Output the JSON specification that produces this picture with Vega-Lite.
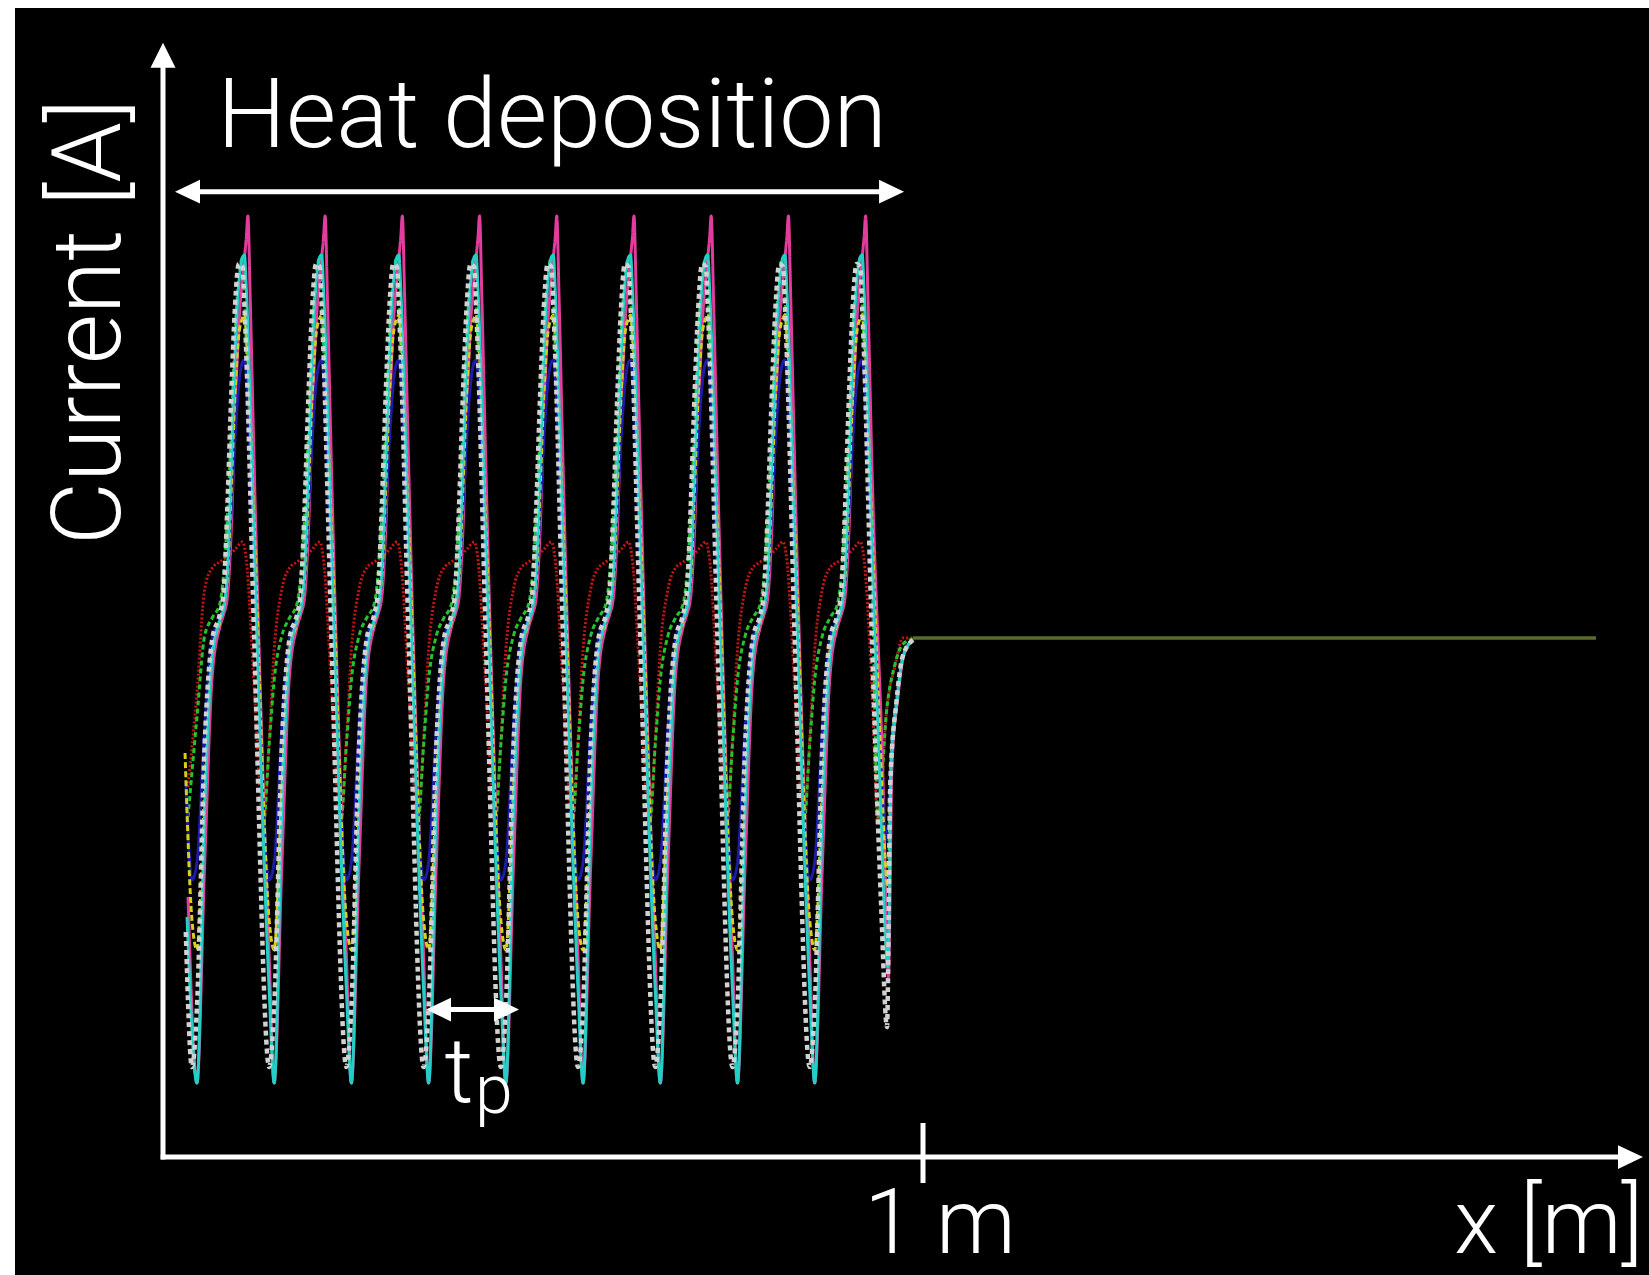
{
  "$schema": "https://vega.github.io/schema/vega-lite/v6.json",
  "width": 1634,
  "height": 1267,
  "autosize": "none",
  "padding": {"left": 15, "top": 8, "right": 0, "bottom": 0},
  "background": "white",
  "config": {"view": {"fill": "black", "stroke": null}},
  "datasets": {
    "curves": [
      {"s":"r","x":0.0329,"y":74},
      {"s":"r","x":0.0447,"y":92.8},{"s":"r","x":0.0547,"y":113.5},{"s":"r","x":0.0647,"y":117.8},{"s":"r","x":0.0747,"y":119},{"s":"r","x":0.0847,"y":120},{"s":"r","x":0.0947,"y":121.5},{"s":"r","x":0.1047,"y":123},{"s":"r","x":0.1097,"y":119.4},{"s":"r","x":0.1197,"y":94.8},{"s":"r","x":0.1322,"y":66.8},{"s":"r","x":0.1397,"y":83.4},
      {"s":"r","x":0.1463,"y":101.4},{"s":"r","x":0.1563,"y":113.5},{"s":"r","x":0.1663,"y":117.8},{"s":"r","x":0.1763,"y":119},{"s":"r","x":0.1863,"y":120},{"s":"r","x":0.1963,"y":121.5},{"s":"r","x":0.2063,"y":123},{"s":"r","x":0.2113,"y":119.4},{"s":"r","x":0.2213,"y":94.8},{"s":"r","x":0.2338,"y":66.8},{"s":"r","x":0.2413,"y":83.4},
      {"s":"r","x":0.2479,"y":101.4},{"s":"r","x":0.2579,"y":113.5},{"s":"r","x":0.2679,"y":117.8},{"s":"r","x":0.2779,"y":119},{"s":"r","x":0.2879,"y":120},{"s":"r","x":0.2979,"y":121.5},{"s":"r","x":0.3079,"y":123},{"s":"r","x":0.3129,"y":119.4},{"s":"r","x":0.3229,"y":94.8},{"s":"r","x":0.3354,"y":66.8},{"s":"r","x":0.3429,"y":83.4},
      {"s":"r","x":0.3495,"y":101.4},{"s":"r","x":0.3595,"y":113.5},{"s":"r","x":0.3695,"y":117.8},{"s":"r","x":0.3795,"y":119},{"s":"r","x":0.3895,"y":120},{"s":"r","x":0.3995,"y":121.5},{"s":"r","x":0.4095,"y":123},{"s":"r","x":0.4145,"y":119.4},{"s":"r","x":0.4245,"y":94.8},{"s":"r","x":0.4370,"y":66.8},{"s":"r","x":0.4445,"y":83.4},
      {"s":"r","x":0.4511,"y":101.4},{"s":"r","x":0.4611,"y":113.5},{"s":"r","x":0.4711,"y":117.8},{"s":"r","x":0.4811,"y":119},{"s":"r","x":0.4911,"y":120},{"s":"r","x":0.5011,"y":121.5},{"s":"r","x":0.5111,"y":123},{"s":"r","x":0.5161,"y":119.4},{"s":"r","x":0.5261,"y":94.8},{"s":"r","x":0.5386,"y":66.8},{"s":"r","x":0.5461,"y":83.4},
      {"s":"r","x":0.5527,"y":101.4},{"s":"r","x":0.5627,"y":113.5},{"s":"r","x":0.5727,"y":117.8},{"s":"r","x":0.5827,"y":119},{"s":"r","x":0.5927,"y":120},{"s":"r","x":0.6027,"y":121.5},{"s":"r","x":0.6127,"y":123},{"s":"r","x":0.6177,"y":119.4},{"s":"r","x":0.6277,"y":94.8},{"s":"r","x":0.6402,"y":66.8},{"s":"r","x":0.6477,"y":83.4},
      {"s":"r","x":0.6543,"y":101.4},{"s":"r","x":0.6643,"y":113.5},{"s":"r","x":0.6743,"y":117.8},{"s":"r","x":0.6843,"y":119},{"s":"r","x":0.6943,"y":120},{"s":"r","x":0.7043,"y":121.5},{"s":"r","x":0.7143,"y":123},{"s":"r","x":0.7193,"y":119.4},{"s":"r","x":0.7293,"y":94.8},{"s":"r","x":0.7418,"y":66.8},{"s":"r","x":0.7493,"y":83.4},
      {"s":"r","x":0.7559,"y":101.4},{"s":"r","x":0.7659,"y":113.5},{"s":"r","x":0.7759,"y":117.8},{"s":"r","x":0.7859,"y":119},{"s":"r","x":0.7959,"y":120},{"s":"r","x":0.8059,"y":121.5},{"s":"r","x":0.8159,"y":123},{"s":"r","x":0.8209,"y":119.4},{"s":"r","x":0.8309,"y":94.8},{"s":"r","x":0.8434,"y":66.8},{"s":"r","x":0.8509,"y":83.4},
      {"s":"r","x":0.8575,"y":101.4},{"s":"r","x":0.8675,"y":113.5},{"s":"r","x":0.8775,"y":117.8},{"s":"r","x":0.8875,"y":119},{"s":"r","x":0.8975,"y":120},{"s":"r","x":0.9075,"y":121.5},{"s":"r","x":0.9175,"y":123},{"s":"r","x":0.9225,"y":119.4},{"s":"r","x":0.9325,"y":94.8},{"s":"r","x":0.9408,"y":66.8},{"s":"r","x":0.9526,"y":90},{"s":"r","x":0.9630,"y":98},{"s":"r","x":0.9737,"y":103.8},{"s":"r","x":0.9868,"y":103.8},

      {"s":"e","x":0.0329,"y":68},
      {"s":"e","x":0.0447,"y":88},{"s":"e","x":0.0547,"y":104.2},{"s":"e","x":0.0647,"y":107.8},{"s":"e","x":0.0747,"y":110.6},{"s":"e","x":0.0847,"y":128},{"s":"e","x":0.0897,"y":145},{"s":"e","x":0.0947,"y":164},{"s":"e","x":0.0997,"y":176},{"s":"e","x":0.1047,"y":179.8},{"s":"e","x":0.1072,"y":172},{"s":"e","x":0.1097,"y":162},{"s":"e","x":0.1197,"y":120},{"s":"e","x":0.1297,"y":78},{"s":"e","x":0.1322,"y":66.8},{"s":"e","x":0.1397,"y":82.4},
      {"s":"e","x":0.1463,"y":95.4},{"s":"e","x":0.1563,"y":104.2},{"s":"e","x":0.1663,"y":107.8},{"s":"e","x":0.1763,"y":110.6},{"s":"e","x":0.1863,"y":128},{"s":"e","x":0.1913,"y":145},{"s":"e","x":0.1963,"y":164},{"s":"e","x":0.2013,"y":176},{"s":"e","x":0.2063,"y":179.8},{"s":"e","x":0.2088,"y":172},{"s":"e","x":0.2113,"y":162},{"s":"e","x":0.2213,"y":120},{"s":"e","x":0.2313,"y":78},{"s":"e","x":0.2338,"y":66.8},{"s":"e","x":0.2413,"y":82.4},
      {"s":"e","x":0.2479,"y":95.4},{"s":"e","x":0.2579,"y":104.2},{"s":"e","x":0.2679,"y":107.8},{"s":"e","x":0.2779,"y":110.6},{"s":"e","x":0.2879,"y":128},{"s":"e","x":0.2929,"y":145},{"s":"e","x":0.2979,"y":164},{"s":"e","x":0.3029,"y":176},{"s":"e","x":0.3079,"y":179.8},{"s":"e","x":0.3104,"y":172},{"s":"e","x":0.3129,"y":162},{"s":"e","x":0.3229,"y":120},{"s":"e","x":0.3329,"y":78},{"s":"e","x":0.3354,"y":66.8},{"s":"e","x":0.3429,"y":82.4},
      {"s":"e","x":0.3495,"y":95.4},{"s":"e","x":0.3595,"y":104.2},{"s":"e","x":0.3695,"y":107.8},{"s":"e","x":0.3795,"y":110.6},{"s":"e","x":0.3895,"y":128},{"s":"e","x":0.3945,"y":145},{"s":"e","x":0.3995,"y":164},{"s":"e","x":0.4045,"y":176},{"s":"e","x":0.4095,"y":179.8},{"s":"e","x":0.4120,"y":172},{"s":"e","x":0.4145,"y":162},{"s":"e","x":0.4245,"y":120},{"s":"e","x":0.4345,"y":78},{"s":"e","x":0.4370,"y":66.8},{"s":"e","x":0.4445,"y":82.4},
      {"s":"e","x":0.4511,"y":95.4},{"s":"e","x":0.4611,"y":104.2},{"s":"e","x":0.4711,"y":107.8},{"s":"e","x":0.4811,"y":110.6},{"s":"e","x":0.4911,"y":128},{"s":"e","x":0.4961,"y":145},{"s":"e","x":0.5011,"y":164},{"s":"e","x":0.5061,"y":176},{"s":"e","x":0.5111,"y":179.8},{"s":"e","x":0.5136,"y":172},{"s":"e","x":0.5161,"y":162},{"s":"e","x":0.5261,"y":120},{"s":"e","x":0.5361,"y":78},{"s":"e","x":0.5386,"y":66.8},{"s":"e","x":0.5461,"y":82.4},
      {"s":"e","x":0.5527,"y":95.4},{"s":"e","x":0.5627,"y":104.2},{"s":"e","x":0.5727,"y":107.8},{"s":"e","x":0.5827,"y":110.6},{"s":"e","x":0.5927,"y":128},{"s":"e","x":0.5977,"y":145},{"s":"e","x":0.6027,"y":164},{"s":"e","x":0.6077,"y":176},{"s":"e","x":0.6127,"y":179.8},{"s":"e","x":0.6152,"y":172},{"s":"e","x":0.6177,"y":162},{"s":"e","x":0.6277,"y":120},{"s":"e","x":0.6377,"y":78},{"s":"e","x":0.6402,"y":66.8},{"s":"e","x":0.6477,"y":82.4},
      {"s":"e","x":0.6543,"y":95.4},{"s":"e","x":0.6643,"y":104.2},{"s":"e","x":0.6743,"y":107.8},{"s":"e","x":0.6843,"y":110.6},{"s":"e","x":0.6943,"y":128},{"s":"e","x":0.6993,"y":145},{"s":"e","x":0.7043,"y":164},{"s":"e","x":0.7093,"y":176},{"s":"e","x":0.7143,"y":179.8},{"s":"e","x":0.7168,"y":172},{"s":"e","x":0.7193,"y":162},{"s":"e","x":0.7293,"y":120},{"s":"e","x":0.7393,"y":78},{"s":"e","x":0.7418,"y":66.8},{"s":"e","x":0.7493,"y":82.4},
      {"s":"e","x":0.7559,"y":95.4},{"s":"e","x":0.7659,"y":104.2},{"s":"e","x":0.7759,"y":107.8},{"s":"e","x":0.7859,"y":110.6},{"s":"e","x":0.7959,"y":128},{"s":"e","x":0.8009,"y":145},{"s":"e","x":0.8059,"y":164},{"s":"e","x":0.8109,"y":176},{"s":"e","x":0.8159,"y":179.8},{"s":"e","x":0.8184,"y":172},{"s":"e","x":0.8209,"y":162},{"s":"e","x":0.8309,"y":120},{"s":"e","x":0.8409,"y":78},{"s":"e","x":0.8434,"y":66.8},{"s":"e","x":0.8509,"y":82.4},
      {"s":"e","x":0.8575,"y":95.4},{"s":"e","x":0.8675,"y":104.2},{"s":"e","x":0.8775,"y":107.8},{"s":"e","x":0.8875,"y":110.6},{"s":"e","x":0.8975,"y":128},{"s":"e","x":0.9025,"y":145},{"s":"e","x":0.9075,"y":164},{"s":"e","x":0.9125,"y":176},{"s":"e","x":0.9175,"y":179.8},{"s":"e","x":0.9200,"y":172},{"s":"e","x":0.9225,"y":162},{"s":"e","x":0.9325,"y":120},{"s":"e","x":0.9408,"y":68},{"s":"e","x":0.9526,"y":90},{"s":"e","x":0.9630,"y":98.5},{"s":"e","x":0.9737,"y":102.6},{"s":"e","x":0.9868,"y":103.6},

      {"s":"m","x":0.0329,"y":52},
      {"s":"m","x":0.0447,"y":14.8},{"s":"m","x":0.0547,"y":58},{"s":"m","x":0.0647,"y":96},{"s":"m","x":0.0747,"y":106},{"s":"m","x":0.0797,"y":108.5},{"s":"m","x":0.0847,"y":112},{"s":"m","x":0.0897,"y":125},{"s":"m","x":0.0947,"y":148},{"s":"m","x":0.0997,"y":166},{"s":"m","x":0.1047,"y":176},{"s":"m","x":0.1072,"y":180},{"s":"m","x":0.1097,"y":184},{"s":"m","x":0.1117,"y":188.2},{"s":"m","x":0.1147,"y":172},{"s":"m","x":0.1197,"y":140},{"s":"m","x":0.1397,"y":40},
      {"s":"m","x":0.1463,"y":14.8},{"s":"m","x":0.1563,"y":58},{"s":"m","x":0.1663,"y":96},{"s":"m","x":0.1763,"y":106},{"s":"m","x":0.1813,"y":108.5},{"s":"m","x":0.1863,"y":112},{"s":"m","x":0.1913,"y":125},{"s":"m","x":0.1963,"y":148},{"s":"m","x":0.2013,"y":166},{"s":"m","x":0.2063,"y":176},{"s":"m","x":0.2088,"y":180},{"s":"m","x":0.2113,"y":184},{"s":"m","x":0.2133,"y":188.2},{"s":"m","x":0.2163,"y":172},{"s":"m","x":0.2213,"y":140},{"s":"m","x":0.2413,"y":40},
      {"s":"m","x":0.2479,"y":14.8},{"s":"m","x":0.2579,"y":58},{"s":"m","x":0.2679,"y":96},{"s":"m","x":0.2779,"y":106},{"s":"m","x":0.2829,"y":108.5},{"s":"m","x":0.2879,"y":112},{"s":"m","x":0.2929,"y":125},{"s":"m","x":0.2979,"y":148},{"s":"m","x":0.3029,"y":166},{"s":"m","x":0.3079,"y":176},{"s":"m","x":0.3104,"y":180},{"s":"m","x":0.3129,"y":184},{"s":"m","x":0.3149,"y":188.2},{"s":"m","x":0.3179,"y":172},{"s":"m","x":0.3229,"y":140},{"s":"m","x":0.3429,"y":40},
      {"s":"m","x":0.3495,"y":14.8},{"s":"m","x":0.3595,"y":58},{"s":"m","x":0.3695,"y":96},{"s":"m","x":0.3795,"y":106},{"s":"m","x":0.3845,"y":108.5},{"s":"m","x":0.3895,"y":112},{"s":"m","x":0.3945,"y":125},{"s":"m","x":0.3995,"y":148},{"s":"m","x":0.4045,"y":166},{"s":"m","x":0.4095,"y":176},{"s":"m","x":0.4120,"y":180},{"s":"m","x":0.4145,"y":184},{"s":"m","x":0.4165,"y":188.2},{"s":"m","x":0.4195,"y":172},{"s":"m","x":0.4245,"y":140},{"s":"m","x":0.4445,"y":40},
      {"s":"m","x":0.4511,"y":14.8},{"s":"m","x":0.4611,"y":58},{"s":"m","x":0.4711,"y":96},{"s":"m","x":0.4811,"y":106},{"s":"m","x":0.4861,"y":108.5},{"s":"m","x":0.4911,"y":112},{"s":"m","x":0.4961,"y":125},{"s":"m","x":0.5011,"y":148},{"s":"m","x":0.5061,"y":166},{"s":"m","x":0.5111,"y":176},{"s":"m","x":0.5136,"y":180},{"s":"m","x":0.5161,"y":184},{"s":"m","x":0.5181,"y":188.2},{"s":"m","x":0.5211,"y":172},{"s":"m","x":0.5261,"y":140},{"s":"m","x":0.5461,"y":40},
      {"s":"m","x":0.5527,"y":14.8},{"s":"m","x":0.5627,"y":58},{"s":"m","x":0.5727,"y":96},{"s":"m","x":0.5827,"y":106},{"s":"m","x":0.5877,"y":108.5},{"s":"m","x":0.5927,"y":112},{"s":"m","x":0.5977,"y":125},{"s":"m","x":0.6027,"y":148},{"s":"m","x":0.6077,"y":166},{"s":"m","x":0.6127,"y":176},{"s":"m","x":0.6152,"y":180},{"s":"m","x":0.6177,"y":184},{"s":"m","x":0.6197,"y":188.2},{"s":"m","x":0.6227,"y":172},{"s":"m","x":0.6277,"y":140},{"s":"m","x":0.6477,"y":40},
      {"s":"m","x":0.6543,"y":14.8},{"s":"m","x":0.6643,"y":58},{"s":"m","x":0.6743,"y":96},{"s":"m","x":0.6843,"y":106},{"s":"m","x":0.6893,"y":108.5},{"s":"m","x":0.6943,"y":112},{"s":"m","x":0.6993,"y":125},{"s":"m","x":0.7043,"y":148},{"s":"m","x":0.7093,"y":166},{"s":"m","x":0.7143,"y":176},{"s":"m","x":0.7168,"y":180},{"s":"m","x":0.7193,"y":184},{"s":"m","x":0.7213,"y":188.2},{"s":"m","x":0.7243,"y":172},{"s":"m","x":0.7293,"y":140},{"s":"m","x":0.7493,"y":40},
      {"s":"m","x":0.7559,"y":14.8},{"s":"m","x":0.7659,"y":58},{"s":"m","x":0.7759,"y":96},{"s":"m","x":0.7859,"y":106},{"s":"m","x":0.7909,"y":108.5},{"s":"m","x":0.7959,"y":112},{"s":"m","x":0.8009,"y":125},{"s":"m","x":0.8059,"y":148},{"s":"m","x":0.8109,"y":166},{"s":"m","x":0.8159,"y":176},{"s":"m","x":0.8184,"y":180},{"s":"m","x":0.8209,"y":184},{"s":"m","x":0.8229,"y":188.2},{"s":"m","x":0.8259,"y":172},{"s":"m","x":0.8309,"y":140},{"s":"m","x":0.8509,"y":40},
      {"s":"m","x":0.8575,"y":14.8},{"s":"m","x":0.8675,"y":58},{"s":"m","x":0.8775,"y":96},{"s":"m","x":0.8875,"y":106},{"s":"m","x":0.8925,"y":108.5},{"s":"m","x":0.8975,"y":112},{"s":"m","x":0.9025,"y":125},{"s":"m","x":0.9075,"y":148},{"s":"m","x":0.9125,"y":166},{"s":"m","x":0.9175,"y":176},{"s":"m","x":0.9200,"y":180},{"s":"m","x":0.9225,"y":184},{"s":"m","x":0.9245,"y":188.2},{"s":"m","x":0.9275,"y":172},{"s":"m","x":0.9325,"y":140},{"s":"m","x":0.9475,"y":75},{"s":"m","x":0.9545,"y":36},{"s":"m","x":0.9592,"y":78},{"s":"m","x":0.9670,"y":92},{"s":"m","x":0.9750,"y":100.5},{"s":"m","x":0.9868,"y":103.4},

      {"s":"b","x":0.0303,"y":75},{"s":"b","x":0.0381,"y":55.4},
      {"s":"b","x":0.0447,"y":59},{"s":"b","x":0.0547,"y":85.4},{"s":"b","x":0.0647,"y":103.4},{"s":"b","x":0.0747,"y":107.8},{"s":"b","x":0.0847,"y":115.4},{"s":"b","x":0.0897,"y":129.4},{"s":"b","x":0.0947,"y":143.4},{"s":"b","x":0.0997,"y":154.4},{"s":"b","x":0.1047,"y":159},{"s":"b","x":0.1072,"y":159.4},{"s":"b","x":0.1097,"y":156.4},{"s":"b","x":0.1197,"y":119.4},{"s":"b","x":0.1397,"y":55.4},
      {"s":"b","x":0.1463,"y":59},{"s":"b","x":0.1563,"y":85.4},{"s":"b","x":0.1663,"y":103.4},{"s":"b","x":0.1763,"y":107.8},{"s":"b","x":0.1863,"y":115.4},{"s":"b","x":0.1913,"y":129.4},{"s":"b","x":0.1963,"y":143.4},{"s":"b","x":0.2013,"y":154.4},{"s":"b","x":0.2063,"y":159},{"s":"b","x":0.2088,"y":159.4},{"s":"b","x":0.2113,"y":156.4},{"s":"b","x":0.2213,"y":119.4},{"s":"b","x":0.2413,"y":55.4},
      {"s":"b","x":0.2479,"y":59},{"s":"b","x":0.2579,"y":85.4},{"s":"b","x":0.2679,"y":103.4},{"s":"b","x":0.2779,"y":107.8},{"s":"b","x":0.2879,"y":115.4},{"s":"b","x":0.2929,"y":129.4},{"s":"b","x":0.2979,"y":143.4},{"s":"b","x":0.3029,"y":154.4},{"s":"b","x":0.3079,"y":159},{"s":"b","x":0.3104,"y":159.4},{"s":"b","x":0.3129,"y":156.4},{"s":"b","x":0.3229,"y":119.4},{"s":"b","x":0.3429,"y":55.4},
      {"s":"b","x":0.3495,"y":59},{"s":"b","x":0.3595,"y":85.4},{"s":"b","x":0.3695,"y":103.4},{"s":"b","x":0.3795,"y":107.8},{"s":"b","x":0.3895,"y":115.4},{"s":"b","x":0.3945,"y":129.4},{"s":"b","x":0.3995,"y":143.4},{"s":"b","x":0.4045,"y":154.4},{"s":"b","x":0.4095,"y":159},{"s":"b","x":0.4120,"y":159.4},{"s":"b","x":0.4145,"y":156.4},{"s":"b","x":0.4245,"y":119.4},{"s":"b","x":0.4445,"y":55.4},
      {"s":"b","x":0.4511,"y":59},{"s":"b","x":0.4611,"y":85.4},{"s":"b","x":0.4711,"y":103.4},{"s":"b","x":0.4811,"y":107.8},{"s":"b","x":0.4911,"y":115.4},{"s":"b","x":0.4961,"y":129.4},{"s":"b","x":0.5011,"y":143.4},{"s":"b","x":0.5061,"y":154.4},{"s":"b","x":0.5111,"y":159},{"s":"b","x":0.5136,"y":159.4},{"s":"b","x":0.5161,"y":156.4},{"s":"b","x":0.5261,"y":119.4},{"s":"b","x":0.5461,"y":55.4},
      {"s":"b","x":0.5527,"y":59},{"s":"b","x":0.5627,"y":85.4},{"s":"b","x":0.5727,"y":103.4},{"s":"b","x":0.5827,"y":107.8},{"s":"b","x":0.5927,"y":115.4},{"s":"b","x":0.5977,"y":129.4},{"s":"b","x":0.6027,"y":143.4},{"s":"b","x":0.6077,"y":154.4},{"s":"b","x":0.6127,"y":159},{"s":"b","x":0.6152,"y":159.4},{"s":"b","x":0.6177,"y":156.4},{"s":"b","x":0.6277,"y":119.4},{"s":"b","x":0.6477,"y":55.4},
      {"s":"b","x":0.6543,"y":59},{"s":"b","x":0.6643,"y":85.4},{"s":"b","x":0.6743,"y":103.4},{"s":"b","x":0.6843,"y":107.8},{"s":"b","x":0.6943,"y":115.4},{"s":"b","x":0.6993,"y":129.4},{"s":"b","x":0.7043,"y":143.4},{"s":"b","x":0.7093,"y":154.4},{"s":"b","x":0.7143,"y":159},{"s":"b","x":0.7168,"y":159.4},{"s":"b","x":0.7193,"y":156.4},{"s":"b","x":0.7293,"y":119.4},{"s":"b","x":0.7493,"y":55.4},
      {"s":"b","x":0.7559,"y":59},{"s":"b","x":0.7659,"y":85.4},{"s":"b","x":0.7759,"y":103.4},{"s":"b","x":0.7859,"y":107.8},{"s":"b","x":0.7959,"y":115.4},{"s":"b","x":0.8009,"y":129.4},{"s":"b","x":0.8059,"y":143.4},{"s":"b","x":0.8109,"y":154.4},{"s":"b","x":0.8159,"y":159},{"s":"b","x":0.8184,"y":159.4},{"s":"b","x":0.8209,"y":156.4},{"s":"b","x":0.8309,"y":119.4},{"s":"b","x":0.8509,"y":55.4},
      {"s":"b","x":0.8575,"y":59},{"s":"b","x":0.8675,"y":85.4},{"s":"b","x":0.8775,"y":103.4},{"s":"b","x":0.8875,"y":107.8},{"s":"b","x":0.8975,"y":115.4},{"s":"b","x":0.9025,"y":129.4},{"s":"b","x":0.9075,"y":143.4},{"s":"b","x":0.9125,"y":154.4},{"s":"b","x":0.9175,"y":159},{"s":"b","x":0.9200,"y":159.4},{"s":"b","x":0.9225,"y":156.4},{"s":"b","x":0.9325,"y":119.4},{"s":"b","x":0.9425,"y":83.4},{"s":"b","x":0.9539,"y":63.4},{"s":"b","x":0.9579,"y":80},{"s":"b","x":0.9658,"y":92},{"s":"b","x":0.9737,"y":100.2},{"s":"b","x":0.9868,"y":103.4},

      {"s":"y","x":0.0290,"y":80.8},{"s":"y","x":0.0381,"y":47.4},
      {"s":"y","x":0.0447,"y":41.4},{"s":"y","x":0.0547,"y":73.4},{"s":"y","x":0.0647,"y":101},{"s":"y","x":0.0747,"y":107},{"s":"y","x":0.0847,"y":115.8},{"s":"y","x":0.0897,"y":133.4},{"s":"y","x":0.0947,"y":152.4},{"s":"y","x":0.0997,"y":164.4},{"s":"y","x":0.1047,"y":167.8},{"s":"y","x":0.1072,"y":168.4},{"s":"y","x":0.1097,"y":165.4},{"s":"y","x":0.1197,"y":127.4},{"s":"y","x":0.1397,"y":47.4},
      {"s":"y","x":0.1463,"y":41.4},{"s":"y","x":0.1563,"y":73.4},{"s":"y","x":0.1663,"y":101},{"s":"y","x":0.1763,"y":107},{"s":"y","x":0.1863,"y":115.8},{"s":"y","x":0.1913,"y":133.4},{"s":"y","x":0.1963,"y":152.4},{"s":"y","x":0.2013,"y":164.4},{"s":"y","x":0.2063,"y":167.8},{"s":"y","x":0.2088,"y":168.4},{"s":"y","x":0.2113,"y":165.4},{"s":"y","x":0.2213,"y":127.4},{"s":"y","x":0.2413,"y":47.4},
      {"s":"y","x":0.2479,"y":41.4},{"s":"y","x":0.2579,"y":73.4},{"s":"y","x":0.2679,"y":101},{"s":"y","x":0.2779,"y":107},{"s":"y","x":0.2879,"y":115.8},{"s":"y","x":0.2929,"y":133.4},{"s":"y","x":0.2979,"y":152.4},{"s":"y","x":0.3029,"y":164.4},{"s":"y","x":0.3079,"y":167.8},{"s":"y","x":0.3104,"y":168.4},{"s":"y","x":0.3129,"y":165.4},{"s":"y","x":0.3229,"y":127.4},{"s":"y","x":0.3429,"y":47.4},
      {"s":"y","x":0.3495,"y":41.4},{"s":"y","x":0.3595,"y":73.4},{"s":"y","x":0.3695,"y":101},{"s":"y","x":0.3795,"y":107},{"s":"y","x":0.3895,"y":115.8},{"s":"y","x":0.3945,"y":133.4},{"s":"y","x":0.3995,"y":152.4},{"s":"y","x":0.4045,"y":164.4},{"s":"y","x":0.4095,"y":167.8},{"s":"y","x":0.4120,"y":168.4},{"s":"y","x":0.4145,"y":165.4},{"s":"y","x":0.4245,"y":127.4},{"s":"y","x":0.4445,"y":47.4},
      {"s":"y","x":0.4511,"y":41.4},{"s":"y","x":0.4611,"y":73.4},{"s":"y","x":0.4711,"y":101},{"s":"y","x":0.4811,"y":107},{"s":"y","x":0.4911,"y":115.8},{"s":"y","x":0.4961,"y":133.4},{"s":"y","x":0.5011,"y":152.4},{"s":"y","x":0.5061,"y":164.4},{"s":"y","x":0.5111,"y":167.8},{"s":"y","x":0.5136,"y":168.4},{"s":"y","x":0.5161,"y":165.4},{"s":"y","x":0.5261,"y":127.4},{"s":"y","x":0.5461,"y":47.4},
      {"s":"y","x":0.5527,"y":41.4},{"s":"y","x":0.5627,"y":73.4},{"s":"y","x":0.5727,"y":101},{"s":"y","x":0.5827,"y":107},{"s":"y","x":0.5927,"y":115.8},{"s":"y","x":0.5977,"y":133.4},{"s":"y","x":0.6027,"y":152.4},{"s":"y","x":0.6077,"y":164.4},{"s":"y","x":0.6127,"y":167.8},{"s":"y","x":0.6152,"y":168.4},{"s":"y","x":0.6177,"y":165.4},{"s":"y","x":0.6277,"y":127.4},{"s":"y","x":0.6477,"y":47.4},
      {"s":"y","x":0.6543,"y":41.4},{"s":"y","x":0.6643,"y":73.4},{"s":"y","x":0.6743,"y":101},{"s":"y","x":0.6843,"y":107},{"s":"y","x":0.6943,"y":115.8},{"s":"y","x":0.6993,"y":133.4},{"s":"y","x":0.7043,"y":152.4},{"s":"y","x":0.7093,"y":164.4},{"s":"y","x":0.7143,"y":167.8},{"s":"y","x":0.7168,"y":168.4},{"s":"y","x":0.7193,"y":165.4},{"s":"y","x":0.7293,"y":127.4},{"s":"y","x":0.7493,"y":47.4},
      {"s":"y","x":0.7559,"y":41.4},{"s":"y","x":0.7659,"y":73.4},{"s":"y","x":0.7759,"y":101},{"s":"y","x":0.7859,"y":107},{"s":"y","x":0.7959,"y":115.8},{"s":"y","x":0.8009,"y":133.4},{"s":"y","x":0.8059,"y":152.4},{"s":"y","x":0.8109,"y":164.4},{"s":"y","x":0.8159,"y":167.8},{"s":"y","x":0.8184,"y":168.4},{"s":"y","x":0.8209,"y":165.4},{"s":"y","x":0.8309,"y":127.4},{"s":"y","x":0.8509,"y":47.4},
      {"s":"y","x":0.8575,"y":41.4},{"s":"y","x":0.8675,"y":73.4},{"s":"y","x":0.8775,"y":101},{"s":"y","x":0.8875,"y":107},{"s":"y","x":0.8975,"y":115.8},{"s":"y","x":0.9025,"y":133.4},{"s":"y","x":0.9075,"y":152.4},{"s":"y","x":0.9125,"y":164.4},{"s":"y","x":0.9175,"y":167.8},{"s":"y","x":0.9200,"y":168.4},{"s":"y","x":0.9225,"y":165.4},{"s":"y","x":0.9325,"y":127.4},{"s":"y","x":0.9425,"y":87.4},{"s":"y","x":0.9539,"y":54},{"s":"y","x":0.9579,"y":79},{"s":"y","x":0.9658,"y":91.8},{"s":"y","x":0.9737,"y":100.2},{"s":"y","x":0.9868,"y":103.4},

      {"s":"c","x":0.0316,"y":48},
      {"s":"c","x":0.0447,"y":14.8},{"s":"c","x":0.0547,"y":69.4},{"s":"c","x":0.0647,"y":99.8},{"s":"c","x":0.0747,"y":107.4},{"s":"c","x":0.0797,"y":109.6},{"s":"c","x":0.0847,"y":117.4},{"s":"c","x":0.0897,"y":138.4},{"s":"c","x":0.0947,"y":160.4},{"s":"c","x":0.0997,"y":174.4},{"s":"c","x":0.1047,"y":180},{"s":"c","x":0.1072,"y":180.4},{"s":"c","x":0.1097,"y":173.4},{"s":"c","x":0.1197,"y":123.4},{"s":"c","x":0.1397,"y":33.4},
      {"s":"c","x":0.1463,"y":14.8},{"s":"c","x":0.1563,"y":69.4},{"s":"c","x":0.1663,"y":99.8},{"s":"c","x":0.1763,"y":107.4},{"s":"c","x":0.1813,"y":109.6},{"s":"c","x":0.1863,"y":117.4},{"s":"c","x":0.1913,"y":138.4},{"s":"c","x":0.1963,"y":160.4},{"s":"c","x":0.2013,"y":174.4},{"s":"c","x":0.2063,"y":180},{"s":"c","x":0.2088,"y":180.4},{"s":"c","x":0.2113,"y":173.4},{"s":"c","x":0.2213,"y":123.4},{"s":"c","x":0.2413,"y":33.4},
      {"s":"c","x":0.2479,"y":14.8},{"s":"c","x":0.2579,"y":69.4},{"s":"c","x":0.2679,"y":99.8},{"s":"c","x":0.2779,"y":107.4},{"s":"c","x":0.2829,"y":109.6},{"s":"c","x":0.2879,"y":117.4},{"s":"c","x":0.2929,"y":138.4},{"s":"c","x":0.2979,"y":160.4},{"s":"c","x":0.3029,"y":174.4},{"s":"c","x":0.3079,"y":180},{"s":"c","x":0.3104,"y":180.4},{"s":"c","x":0.3129,"y":173.4},{"s":"c","x":0.3229,"y":123.4},{"s":"c","x":0.3429,"y":33.4},
      {"s":"c","x":0.3495,"y":14.8},{"s":"c","x":0.3595,"y":69.4},{"s":"c","x":0.3695,"y":99.8},{"s":"c","x":0.3795,"y":107.4},{"s":"c","x":0.3845,"y":109.6},{"s":"c","x":0.3895,"y":117.4},{"s":"c","x":0.3945,"y":138.4},{"s":"c","x":0.3995,"y":160.4},{"s":"c","x":0.4045,"y":174.4},{"s":"c","x":0.4095,"y":180},{"s":"c","x":0.4120,"y":180.4},{"s":"c","x":0.4145,"y":173.4},{"s":"c","x":0.4245,"y":123.4},{"s":"c","x":0.4445,"y":33.4},
      {"s":"c","x":0.4511,"y":14.8},{"s":"c","x":0.4611,"y":69.4},{"s":"c","x":0.4711,"y":99.8},{"s":"c","x":0.4811,"y":107.4},{"s":"c","x":0.4861,"y":109.6},{"s":"c","x":0.4911,"y":117.4},{"s":"c","x":0.4961,"y":138.4},{"s":"c","x":0.5011,"y":160.4},{"s":"c","x":0.5061,"y":174.4},{"s":"c","x":0.5111,"y":180},{"s":"c","x":0.5136,"y":180.4},{"s":"c","x":0.5161,"y":173.4},{"s":"c","x":0.5261,"y":123.4},{"s":"c","x":0.5461,"y":33.4},
      {"s":"c","x":0.5527,"y":14.8},{"s":"c","x":0.5627,"y":69.4},{"s":"c","x":0.5727,"y":99.8},{"s":"c","x":0.5827,"y":107.4},{"s":"c","x":0.5877,"y":109.6},{"s":"c","x":0.5927,"y":117.4},{"s":"c","x":0.5977,"y":138.4},{"s":"c","x":0.6027,"y":160.4},{"s":"c","x":0.6077,"y":174.4},{"s":"c","x":0.6127,"y":180},{"s":"c","x":0.6152,"y":180.4},{"s":"c","x":0.6177,"y":173.4},{"s":"c","x":0.6277,"y":123.4},{"s":"c","x":0.6477,"y":33.4},
      {"s":"c","x":0.6543,"y":14.8},{"s":"c","x":0.6643,"y":69.4},{"s":"c","x":0.6743,"y":99.8},{"s":"c","x":0.6843,"y":107.4},{"s":"c","x":0.6893,"y":109.6},{"s":"c","x":0.6943,"y":117.4},{"s":"c","x":0.6993,"y":138.4},{"s":"c","x":0.7043,"y":160.4},{"s":"c","x":0.7093,"y":174.4},{"s":"c","x":0.7143,"y":180},{"s":"c","x":0.7168,"y":180.4},{"s":"c","x":0.7193,"y":173.4},{"s":"c","x":0.7293,"y":123.4},{"s":"c","x":0.7493,"y":33.4},
      {"s":"c","x":0.7559,"y":14.8},{"s":"c","x":0.7659,"y":69.4},{"s":"c","x":0.7759,"y":99.8},{"s":"c","x":0.7859,"y":107.4},{"s":"c","x":0.7909,"y":109.6},{"s":"c","x":0.7959,"y":117.4},{"s":"c","x":0.8009,"y":138.4},{"s":"c","x":0.8059,"y":160.4},{"s":"c","x":0.8109,"y":174.4},{"s":"c","x":0.8159,"y":180},{"s":"c","x":0.8184,"y":180.4},{"s":"c","x":0.8209,"y":173.4},{"s":"c","x":0.8309,"y":123.4},{"s":"c","x":0.8509,"y":33.4},
      {"s":"c","x":0.8575,"y":14.8},{"s":"c","x":0.8675,"y":69.4},{"s":"c","x":0.8775,"y":99.8},{"s":"c","x":0.8875,"y":107.4},{"s":"c","x":0.8925,"y":109.6},{"s":"c","x":0.8975,"y":117.4},{"s":"c","x":0.9025,"y":138.4},{"s":"c","x":0.9075,"y":160.4},{"s":"c","x":0.9125,"y":174.4},{"s":"c","x":0.9175,"y":180},{"s":"c","x":0.9200,"y":180.4},{"s":"c","x":0.9225,"y":173.4},{"s":"c","x":0.9325,"y":123.4},{"s":"c","x":0.9425,"y":77.8},{"s":"c","x":0.9540,"y":38},{"s":"c","x":0.9579,"y":78},{"s":"c","x":0.9658,"y":91.4},{"s":"c","x":0.9737,"y":100},{"s":"c","x":0.9868,"y":103.4},

      {"s":"g","x":0.0300,"y":45},{"s":"g","x":0.0381,"y":18},
      {"s":"g","x":0.0447,"y":30},{"s":"g","x":0.0547,"y":82},{"s":"g","x":0.0647,"y":103.5},{"s":"g","x":0.0747,"y":108.5},{"s":"g","x":0.0797,"y":113},{"s":"g","x":0.0847,"y":130},{"s":"g","x":0.0897,"y":152},{"s":"g","x":0.0947,"y":170},{"s":"g","x":0.0997,"y":178.6},{"s":"g","x":0.1047,"y":178},{"s":"g","x":0.1072,"y":170},{"s":"g","x":0.1097,"y":160},{"s":"g","x":0.1197,"y":105},{"s":"g","x":0.1397,"y":18},
      {"s":"g","x":0.1463,"y":30},{"s":"g","x":0.1563,"y":82},{"s":"g","x":0.1663,"y":103.5},{"s":"g","x":0.1763,"y":108.5},{"s":"g","x":0.1813,"y":113},{"s":"g","x":0.1863,"y":130},{"s":"g","x":0.1913,"y":152},{"s":"g","x":0.1963,"y":170},{"s":"g","x":0.2013,"y":178.6},{"s":"g","x":0.2063,"y":178},{"s":"g","x":0.2088,"y":170},{"s":"g","x":0.2113,"y":160},{"s":"g","x":0.2213,"y":105},{"s":"g","x":0.2413,"y":18},
      {"s":"g","x":0.2479,"y":30},{"s":"g","x":0.2579,"y":82},{"s":"g","x":0.2679,"y":103.5},{"s":"g","x":0.2779,"y":108.5},{"s":"g","x":0.2829,"y":113},{"s":"g","x":0.2879,"y":130},{"s":"g","x":0.2929,"y":152},{"s":"g","x":0.2979,"y":170},{"s":"g","x":0.3029,"y":178.6},{"s":"g","x":0.3079,"y":178},{"s":"g","x":0.3104,"y":170},{"s":"g","x":0.3129,"y":160},{"s":"g","x":0.3229,"y":105},{"s":"g","x":0.3429,"y":18},
      {"s":"g","x":0.3495,"y":30},{"s":"g","x":0.3595,"y":82},{"s":"g","x":0.3695,"y":103.5},{"s":"g","x":0.3795,"y":108.5},{"s":"g","x":0.3845,"y":113},{"s":"g","x":0.3895,"y":130},{"s":"g","x":0.3945,"y":152},{"s":"g","x":0.3995,"y":170},{"s":"g","x":0.4045,"y":178.6},{"s":"g","x":0.4095,"y":178},{"s":"g","x":0.4120,"y":170},{"s":"g","x":0.4145,"y":160},{"s":"g","x":0.4245,"y":105},{"s":"g","x":0.4445,"y":18},
      {"s":"g","x":0.4511,"y":30},{"s":"g","x":0.4611,"y":82},{"s":"g","x":0.4711,"y":103.5},{"s":"g","x":0.4811,"y":108.5},{"s":"g","x":0.4861,"y":113},{"s":"g","x":0.4911,"y":130},{"s":"g","x":0.4961,"y":152},{"s":"g","x":0.5011,"y":170},{"s":"g","x":0.5061,"y":178.6},{"s":"g","x":0.5111,"y":178},{"s":"g","x":0.5136,"y":170},{"s":"g","x":0.5161,"y":160},{"s":"g","x":0.5261,"y":105},{"s":"g","x":0.5461,"y":18},
      {"s":"g","x":0.5527,"y":30},{"s":"g","x":0.5627,"y":82},{"s":"g","x":0.5727,"y":103.5},{"s":"g","x":0.5827,"y":108.5},{"s":"g","x":0.5877,"y":113},{"s":"g","x":0.5927,"y":130},{"s":"g","x":0.5977,"y":152},{"s":"g","x":0.6027,"y":170},{"s":"g","x":0.6077,"y":178.6},{"s":"g","x":0.6127,"y":178},{"s":"g","x":0.6152,"y":170},{"s":"g","x":0.6177,"y":160},{"s":"g","x":0.6277,"y":105},{"s":"g","x":0.6477,"y":18},
      {"s":"g","x":0.6543,"y":30},{"s":"g","x":0.6643,"y":82},{"s":"g","x":0.6743,"y":103.5},{"s":"g","x":0.6843,"y":108.5},{"s":"g","x":0.6893,"y":113},{"s":"g","x":0.6943,"y":130},{"s":"g","x":0.6993,"y":152},{"s":"g","x":0.7043,"y":170},{"s":"g","x":0.7093,"y":178.6},{"s":"g","x":0.7143,"y":178},{"s":"g","x":0.7168,"y":170},{"s":"g","x":0.7193,"y":160},{"s":"g","x":0.7293,"y":105},{"s":"g","x":0.7493,"y":18},
      {"s":"g","x":0.7559,"y":30},{"s":"g","x":0.7659,"y":82},{"s":"g","x":0.7759,"y":103.5},{"s":"g","x":0.7859,"y":108.5},{"s":"g","x":0.7909,"y":113},{"s":"g","x":0.7959,"y":130},{"s":"g","x":0.8009,"y":152},{"s":"g","x":0.8059,"y":170},{"s":"g","x":0.8109,"y":178.6},{"s":"g","x":0.8159,"y":178},{"s":"g","x":0.8184,"y":170},{"s":"g","x":0.8209,"y":160},{"s":"g","x":0.8309,"y":105},{"s":"g","x":0.8509,"y":18},
      {"s":"g","x":0.8575,"y":30},{"s":"g","x":0.8675,"y":82},{"s":"g","x":0.8775,"y":103.5},{"s":"g","x":0.8875,"y":108.5},{"s":"g","x":0.8925,"y":113},{"s":"g","x":0.8975,"y":130},{"s":"g","x":0.9025,"y":152},{"s":"g","x":0.9075,"y":170},{"s":"g","x":0.9125,"y":178.6},{"s":"g","x":0.9175,"y":178},{"s":"g","x":0.9200,"y":170},{"s":"g","x":0.9225,"y":160},{"s":"g","x":0.9325,"y":105},{"s":"g","x":0.9450,"y":50},{"s":"g","x":0.9526,"y":26},{"s":"g","x":0.9570,"y":75},{"s":"g","x":0.9650,"y":91},{"s":"g","x":0.9730,"y":100},{"s":"g","x":0.9868,"y":103.4}
    ],
    "flat": [
      {"x":0.9868,"y":103.8},{"x":1.8855,"y":103.8}
    ],
    "rules": [
      {"x":0,"y":-0.5,"x2":0,"y2":219},
      {"x":-0.003,"y":0,"x2":1.92,"y2":0},
      {"x":1,"y":6.8,"x2":1,"y2":-5.2},
      {"x":0.0322,"y":193.06,"x2":0.9586,"y2":193.06},
      {"x":0.3625,"y":29.5,"x2":0.452,"y2":29.5}
    ],
    "heads": [
      {"x":0,"y":220.35,"dir":"up"},
      {"x":1.9309,"y":0,"dir":"right"},
      {"x":0.0322,"y":193.06,"dir":"left"},
      {"x":0.9586,"y":193.06,"dir":"right"},
      {"x":0.3625,"y":29.5,"dir":"left"},
      {"x":0.452,"y":29.5,"dir":"right"}
    ]
  },
  "encoding": {
    "x": {"field": "x", "type": "quantitative", "scale": {"domain": [-0.19474, 1.95526], "nice": false, "zero": false}, "axis": null},
    "y": {"field": "y", "type": "quantitative", "scale": {"domain": [-23.6, 229.8], "nice": false, "zero": false}, "axis": null}
  },
  "layer": [
    {
      "data": {"name": "curves"},
      "transform": [{"filter": {"field": "s", "oneOf": ["r","e","m","b","y","c"]}}],
      "mark": {"type": "line", "interpolate": "monotone", "strokeWidth": 3},
      "encoding": {
        "color": {"field": "s", "type": "nominal", "legend": null,
          "scale": {"domain": ["r","e","m","b","y","c","g"], "range": ["#c81414","#26c22e","#e23d9c","#1c1ca8","#d6cf1e","#22cfc6","#d2d2d2"]}},
        "strokeDash": {"field": "s", "type": "nominal", "legend": null,
          "scale": {"domain": ["r","e","m","b","y","c","g"], "range": [[2,2],[5,3],[1,0],[1,0],[6,3],[1,0],[5,4]]}}
      }
    },
    {
      "data": {"name": "curves"},
      "transform": [{"filter": {"field": "s", "oneOf": ["g"]}}],
      "mark": {"type": "line", "interpolate": "monotone", "strokeWidth": 4.5},
      "encoding": {
        "color": {"field": "s", "type": "nominal", "legend": null,
          "scale": {"domain": ["r","e","m","b","y","c","g"], "range": ["#c81414","#26c22e","#e23d9c","#1c1ca8","#d6cf1e","#22cfc6","#d2d2d2"]}},
        "strokeDash": {"field": "s", "type": "nominal", "legend": null,
          "scale": {"domain": ["r","e","m","b","y","c","g"], "range": [[2,2],[5,3],[1,0],[1,0],[6,3],[1,0],[5,4]]}}
      }
    },
    {
      "data": {"name": "flat"},
      "mark": {"type": "line", "color": "#5a6b2c", "strokeWidth": 3.5},
      "encoding": {}
    },
    {
      "data": {"name": "rules"},
      "mark": {"type": "rule", "color": "white", "strokeWidth": 5},
      "encoding": {
        "x2": {"field": "x2"},
        "y2": {"field": "y2"}
      }
    },
    {
      "data": {"name": "heads"},
      "mark": {"type": "point", "filled": true, "size": 625, "color": "white", "opacity": 1, "strokeWidth": 0},
      "encoding": {
        "shape": {"field": "dir", "type": "nominal", "legend": null,
          "scale": {"domain": ["up","right","left"], "range": ["M0,-1L1,1L-1,1Z","M1,0L-1,-0.95L-1,0.95Z","M-1,0L1,-0.95L1,0.95Z"]}}
      }
    },
    {
      "data": {"values": [{"label": "Heat deposition", "x": 0.512, "y": 202}]},
      "mark": {"type": "text", "align": "center", "baseline": "alphabetic", "font": "Roboto", "fontWeight": 300, "fontSize": 97, "color": "white"},
      "encoding": {"text": {"field": "label"}}
    },
    {
      "data": {"values": [{"label": "1 m", "x": 1.0224, "y": -19.2}]},
      "mark": {"type": "text", "align": "center", "baseline": "alphabetic", "font": "Roboto", "fontWeight": 300, "fontSize": 90, "color": "white"},
      "encoding": {"text": {"field": "label"}}
    },
    {
      "data": {"values": [{"label": "x [m]", "x": 1.9474, "y": -19.2}]},
      "mark": {"type": "text", "align": "right", "baseline": "alphabetic", "font": "Roboto", "fontWeight": 300, "fontSize": 90, "color": "white"},
      "encoding": {"text": {"field": "label"}}
    },
    {
      "data": {"values": [{"label": "Current [A]", "x": -0.0566, "y": 167}]},
      "mark": {"type": "text", "align": "center", "baseline": "alphabetic", "angle": 270, "font": "Roboto", "fontWeight": 300, "fontSize": 97, "color": "white"},
      "encoding": {"text": {"field": "label"}}
    },
    {
      "data": {"values": [{"label": "t", "x": 0.3895, "y": 11}]},
      "mark": {"type": "text", "align": "center", "baseline": "alphabetic", "font": "Roboto", "fontWeight": 300, "fontSize": 90, "color": "white"},
      "encoding": {"text": {"field": "label"}}
    },
    {
      "data": {"values": [{"label": "p", "x": 0.4355, "y": 8.8}]},
      "mark": {"type": "text", "align": "center", "baseline": "alphabetic", "font": "Roboto", "fontWeight": 300, "fontSize": 68, "color": "white"},
      "encoding": {"text": {"field": "label"}}
    }
  ]
}
